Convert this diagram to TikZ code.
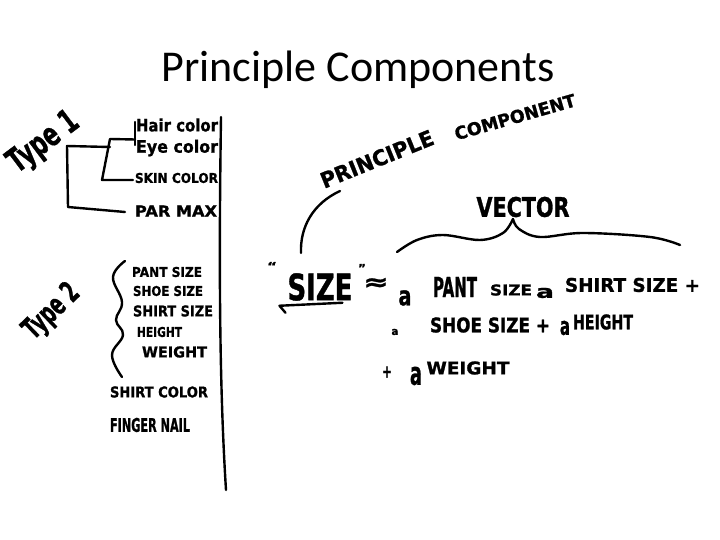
\documentclass[tikz,border=0pt]{standalone}
\usepackage{fontspec}
\usepackage{graphicx}
\usetikzlibrary{calc,positioning}
\newfontfamily\titlefont{Carlito}
\newfontfamily\handfont{DejaVu Sans}[FakeBold=1.2]
\definecolor{ink}{HTML}{000000}
% handwriting: text squeezed into a given width and height
\newcommand{\hw}[3]{\resizebox{#1pt}{#2pt}{\handfont\bfseries #3}}

\begin{document}
\begin{tikzpicture}[x=1pt, y=-1pt,
  pen/.style={draw=ink, line width=2.4pt, line cap=round, line join=round},
  hand/.style={inner sep=0pt, outer sep=0pt, text=ink},
  title/.style={inner sep=0pt, font=\titlefont\fontsize{44}{50}\selectfont}]
  \useasboundingbox[fill=white] (0,0) rectangle (720,540);

  \node[title] (head) at (358,70) {Principle Components};

  % dividing line
  \draw[pen] (221,117) .. controls (219,250) and (219,380) .. (226,490);

  % type 1
  \node[hand, rotate=37] (type1) at (44,143) {\hw{80}{24}{Type 1}};
  \node[hand, anchor=west] (hair) at (136,125) {\hw{82}{13}{Hair color}};
  \node[hand, anchor=west] (eye) at (136,148) {\hw{82}{13}{Eye color}};
  \node[hand, anchor=west] (skin) at (135,178) {\hw{83}{10}{SKIN COLOR}};
  \node[hand, anchor=west] (par) at (135,211) {\hw{82}{11}{PAR MAX}};
  \draw[pen] ($(hair.west)+(-1,-3)$) -- ($(eye.west)+(-1,-3)$);
  \coordinate (fork) at (110,139);
  \draw[pen] ($(hair.west)!0.5!(eye.west)+(-1,3)$) -- (fork) -- (102,180) -- ($(skin.west)+(-2,2)$);
  \draw[pen] (110,147) -- (67,146) -- (68,207) -- ($(par.west)+(-10,1)$);

  % type 2
  \node[hand, rotate=44] (type2) at (52,312) {\hw{66}{22}{Type 2}};
  \node[hand, anchor=west] (pant) at (132,272) {\hw{70}{10}{PANT SIZE}};
  \node[hand, anchor=west] (shoe) at (133,291) {\hw{70}{10}{SHOE SIZE}};
  \node[hand, anchor=west] (shirt) at (133,311) {\hw{80}{11}{SHIRT SIZE}};
  \node[hand, anchor=west] (height) at (137,332) {\hw{45}{10}{HEIGHT}};
  \node[hand, anchor=west] (weight) at (142,352) {\hw{65}{11}{WEIGHT}};
  \node[hand, anchor=west] (scolor) at (110,392) {\hw{98}{11}{SHIRT COLOR}};
  \node[hand, anchor=west] (finger) at (110,425) {\hw{80}{14}{FINGER NAIL}};
  \draw[pen] plot[smooth, tension=0.7] coordinates {(125,261) (113,277) (122,302) (116,320) (123,335) (112,355) (122,377)};

  % principle component vector
  \node[hand, rotate=22] (princ) at (377,159) {\hw{120}{16}{PRINCIPLE}};
  \node[hand, rotate=16] (comp) at (515,117) {\hw{125}{13}{COMPONENT}};
  \node[hand] (vector) at (523,207) {\hw{93}{20}{VECTOR}};
  \draw[pen] (340,191) .. controls (312,204) and (300,228) .. (301,253);
  \draw[pen] plot[smooth, tension=0.6] coordinates {(397,252) (417,240) (443,235) (480,240) (503,233) (513,219)};
  \draw[pen] plot[smooth, tension=0.6] coordinates {(513,219) (519,229) (540,237) (583,233) (650,237) (680,245)};

  % size as a sum
  \node[hand] (oquote) at (272,266) {\hw{10}{8}{“}};
  \node[hand] (size) at (320,287) {\hw{65}{27}{SIZE}};
  \node[hand] (cquote) at (362,268) {\hw{8}{8}{”}};
  \draw[pen] ($(size.south west)+(-8,5)$) -- ($(size.south east)+(-10,2)$);
  \draw[pen] ($(size.south west)+(-8,5)$) -- ++(6,7);
  \node[hand] (approx) at (376,284) {\hw{25}{12}{≈}};
  \node[hand] (a1) at (405,298) {\hw{13}{15}{a}};
  \node[hand] (pnt) at (455,287) {\hw{44}{20}{PANT}};
  \node[hand] (psize) at (511,290) {\hw{42}{11}{SIZE}};
  \node[hand] (a2) at (545,293) {\hw{18}{10}{a}};
  \node[hand, anchor=west] (shirtsz) at (565,285) {\hw{135}{14}{SHIRT SIZE +}};
  \node[hand] (a3) at (395,332) {\hw{7}{6}{a}};
  \node[hand] (shoesz) at (490,325) {\hw{120}{15}{SHOE SIZE +}};
  \node[hand] (a4) at (565,328) {\hw{10}{14}{a}};
  \node[hand] (heightsz) at (603,322) {\hw{60}{15}{HEIGHT}};
  \node[hand] (plus) at (387,372) {\hw{10}{11}{+}};
  \node[hand] (a5) at (416,376) {\hw{12}{18}{a}};
  \node[hand] (weightsz) at (468,368) {\hw{83}{13}{WEIGHT}};
\end{tikzpicture}
\end{document}
